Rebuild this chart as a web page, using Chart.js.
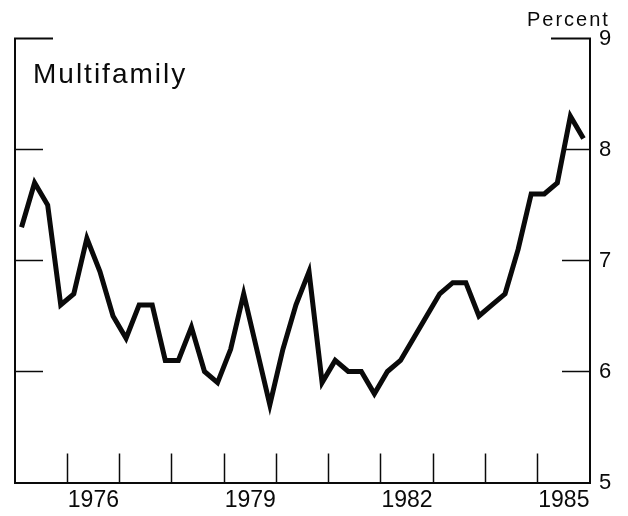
<!DOCTYPE html>
<html>
<head>
<meta charset="utf-8">
<script src="https://cdn.jsdelivr.net/npm/chart.js@4.4.1/dist/chart.umd.min.js"></script>
<style>
  html, body { margin: 0; padding: 0; background: #fff; }
  #wrap { width: 628px; height: 516px; }
</style>
</head>
<body>
<div id="wrap"><canvas id="rateChart" width="628" height="516"></canvas></div>
<script>
// quarterly series, 1975 Q1 .. 1985 Q4
const startYear = 1975;
const endYear = 1986;
const quarterlyRates = [
  7.3, 7.7, 7.5, 6.6,
  6.7, 7.2, 6.9, 6.5,
  6.3, 6.6, 6.6, 6.1,
  6.1, 6.4, 6.0, 5.9,
  6.2, 6.7, 6.2, 5.7,
  6.2, 6.6, 6.9, 5.9,
  6.1, 6.0, 6.0, 5.8,
  6.0, 6.1, 6.3, 6.5,
  6.7, 6.8, 6.8, 6.5,
  6.6, 6.7, 7.1, 7.6,
  7.6, 7.7, 8.3, 8.1
];
const yearTicks = [1976, 1977, 1978, 1979, 1980, 1981, 1982, 1983, 1984, 1985];
const labelYears = [1976, 1979, 1982, 1985];
const percentMin = 5;
const percentMax = 9;

const points = quarterlyRates.map((v, i) => ({ x: startYear + (i + 0.5) / 4, y: v }));

const FONT = '"Liberation Sans", Arial, Helvetica, sans-serif';
const INK = '#0a0a0a';
const none = 'rgba(0,0,0,0)';

// top corner pieces of the frame and the two text labels
const frameExtras = {
  id: 'frameExtras',
  afterDraw(chart) {
    const { ctx, chartArea: a } = chart;
    ctx.save();
    ctx.strokeStyle = INK;
    ctx.lineWidth = 2;
    ctx.beginPath();
    ctx.moveTo(a.left - 1, a.top);
    ctx.lineTo(a.left + 38, a.top);
    ctx.moveTo(a.right - 39, a.top);
    ctx.lineTo(a.right + 1, a.top);
    ctx.stroke();

    ctx.fillStyle = INK;
    ctx.textBaseline = 'alphabetic';
    ctx.textAlign = 'left';
    ctx.letterSpacing = '2px';
    ctx.font = '28px ' + FONT;
    ctx.fillText('Multifamily', 33, 83);
    ctx.font = '20px ' + FONT;
    ctx.fillText('Percent', 527, 26);
    ctx.restore();
  }
};

const yGrid = (ctx) => (ctx.tick && (ctx.tick.value === percentMin || ctx.tick.value === percentMax)) ? none : INK;

// big tick paddings would otherwise push the plot area inwards
const noPad = (scale) => {
  scale.paddingTop = 0;
  scale.paddingBottom = 0;
  scale.paddingLeft = 0;
  scale.paddingRight = 0;
};

new Chart(document.getElementById('rateChart'), {
  type: 'line',
  data: {
    datasets: [{
      data: points,
      borderColor: INK,
      borderWidth: 5,
      borderJoinStyle: 'miter',
      borderCapStyle: 'butt',
      pointRadius: 0,
      tension: 0,
      fill: false
    }]
  },
  options: {
    responsive: false,
    devicePixelRatio: 1,
    animation: false,
    layout: { padding: { left: 15, top: 38.5, right: 0, bottom: 0 } },
    plugins: {
      legend: { display: false },
      tooltip: { enabled: false }
    },
    scales: {
      x: {
        type: 'linear',
        position: 'bottom',
        min: startYear,
        max: endYear,
        afterBuildTicks: (scale) => {
          const vals = yearTicks.concat(labelYears.map(y => y + 0.5)).sort((a, b) => a - b);
          scale.ticks = vals.map(v => ({ value: v }));
        },
        afterFit: (scale) => { scale.height = 33.5; noPad(scale); },
        grid: {
          drawOnChartArea: false,
          drawTicks: true,
          tickLength: -29,
          tickWidth: 1.5,
          color: (ctx) => (ctx.tick && Number.isInteger(ctx.tick.value)) ? INK : none,
          tickColor: (ctx) => (ctx.tick && Number.isInteger(ctx.tick.value)) ? INK : none
        },
        border: { display: true, color: INK, width: 2 },
        ticks: {
          autoSkip: false,
          maxRotation: 0,
          padding: 33,
          color: INK,
          font: { family: FONT, size: 23 },
          callback: (v) => labelYears.includes(v - 0.5) ? String(v - 0.5) : ''
        }
      },
      y: {
        type: 'linear',
        position: 'right',
        min: percentMin,
        max: percentMax,
        afterFit: (scale) => { scale.width = 38; noPad(scale); },
        grid: {
          drawOnChartArea: false,
          tickLength: -28,
          tickWidth: 1.5,
          color: yGrid,
          tickColor: yGrid
        },
        border: { display: true, color: INK, width: 2 },
        ticks: {
          stepSize: 1,
          padding: 37,
          color: INK,
          font: { family: FONT, size: 22 }
        }
      },
      yLeft: {
        type: 'linear',
        position: 'left',
        min: percentMin,
        max: percentMax,
        afterFit: (scale) => { scale.width = 0; noPad(scale); },
        grid: {
          drawOnChartArea: false,
          tickLength: -28,
          tickWidth: 1.5,
          color: yGrid,
          tickColor: yGrid
        },
        border: { display: true, color: INK, width: 2 },
        ticks: { display: false, stepSize: 1 }
      }
    }
  },
  plugins: [frameExtras]
});
</script>
</body>
</html>
